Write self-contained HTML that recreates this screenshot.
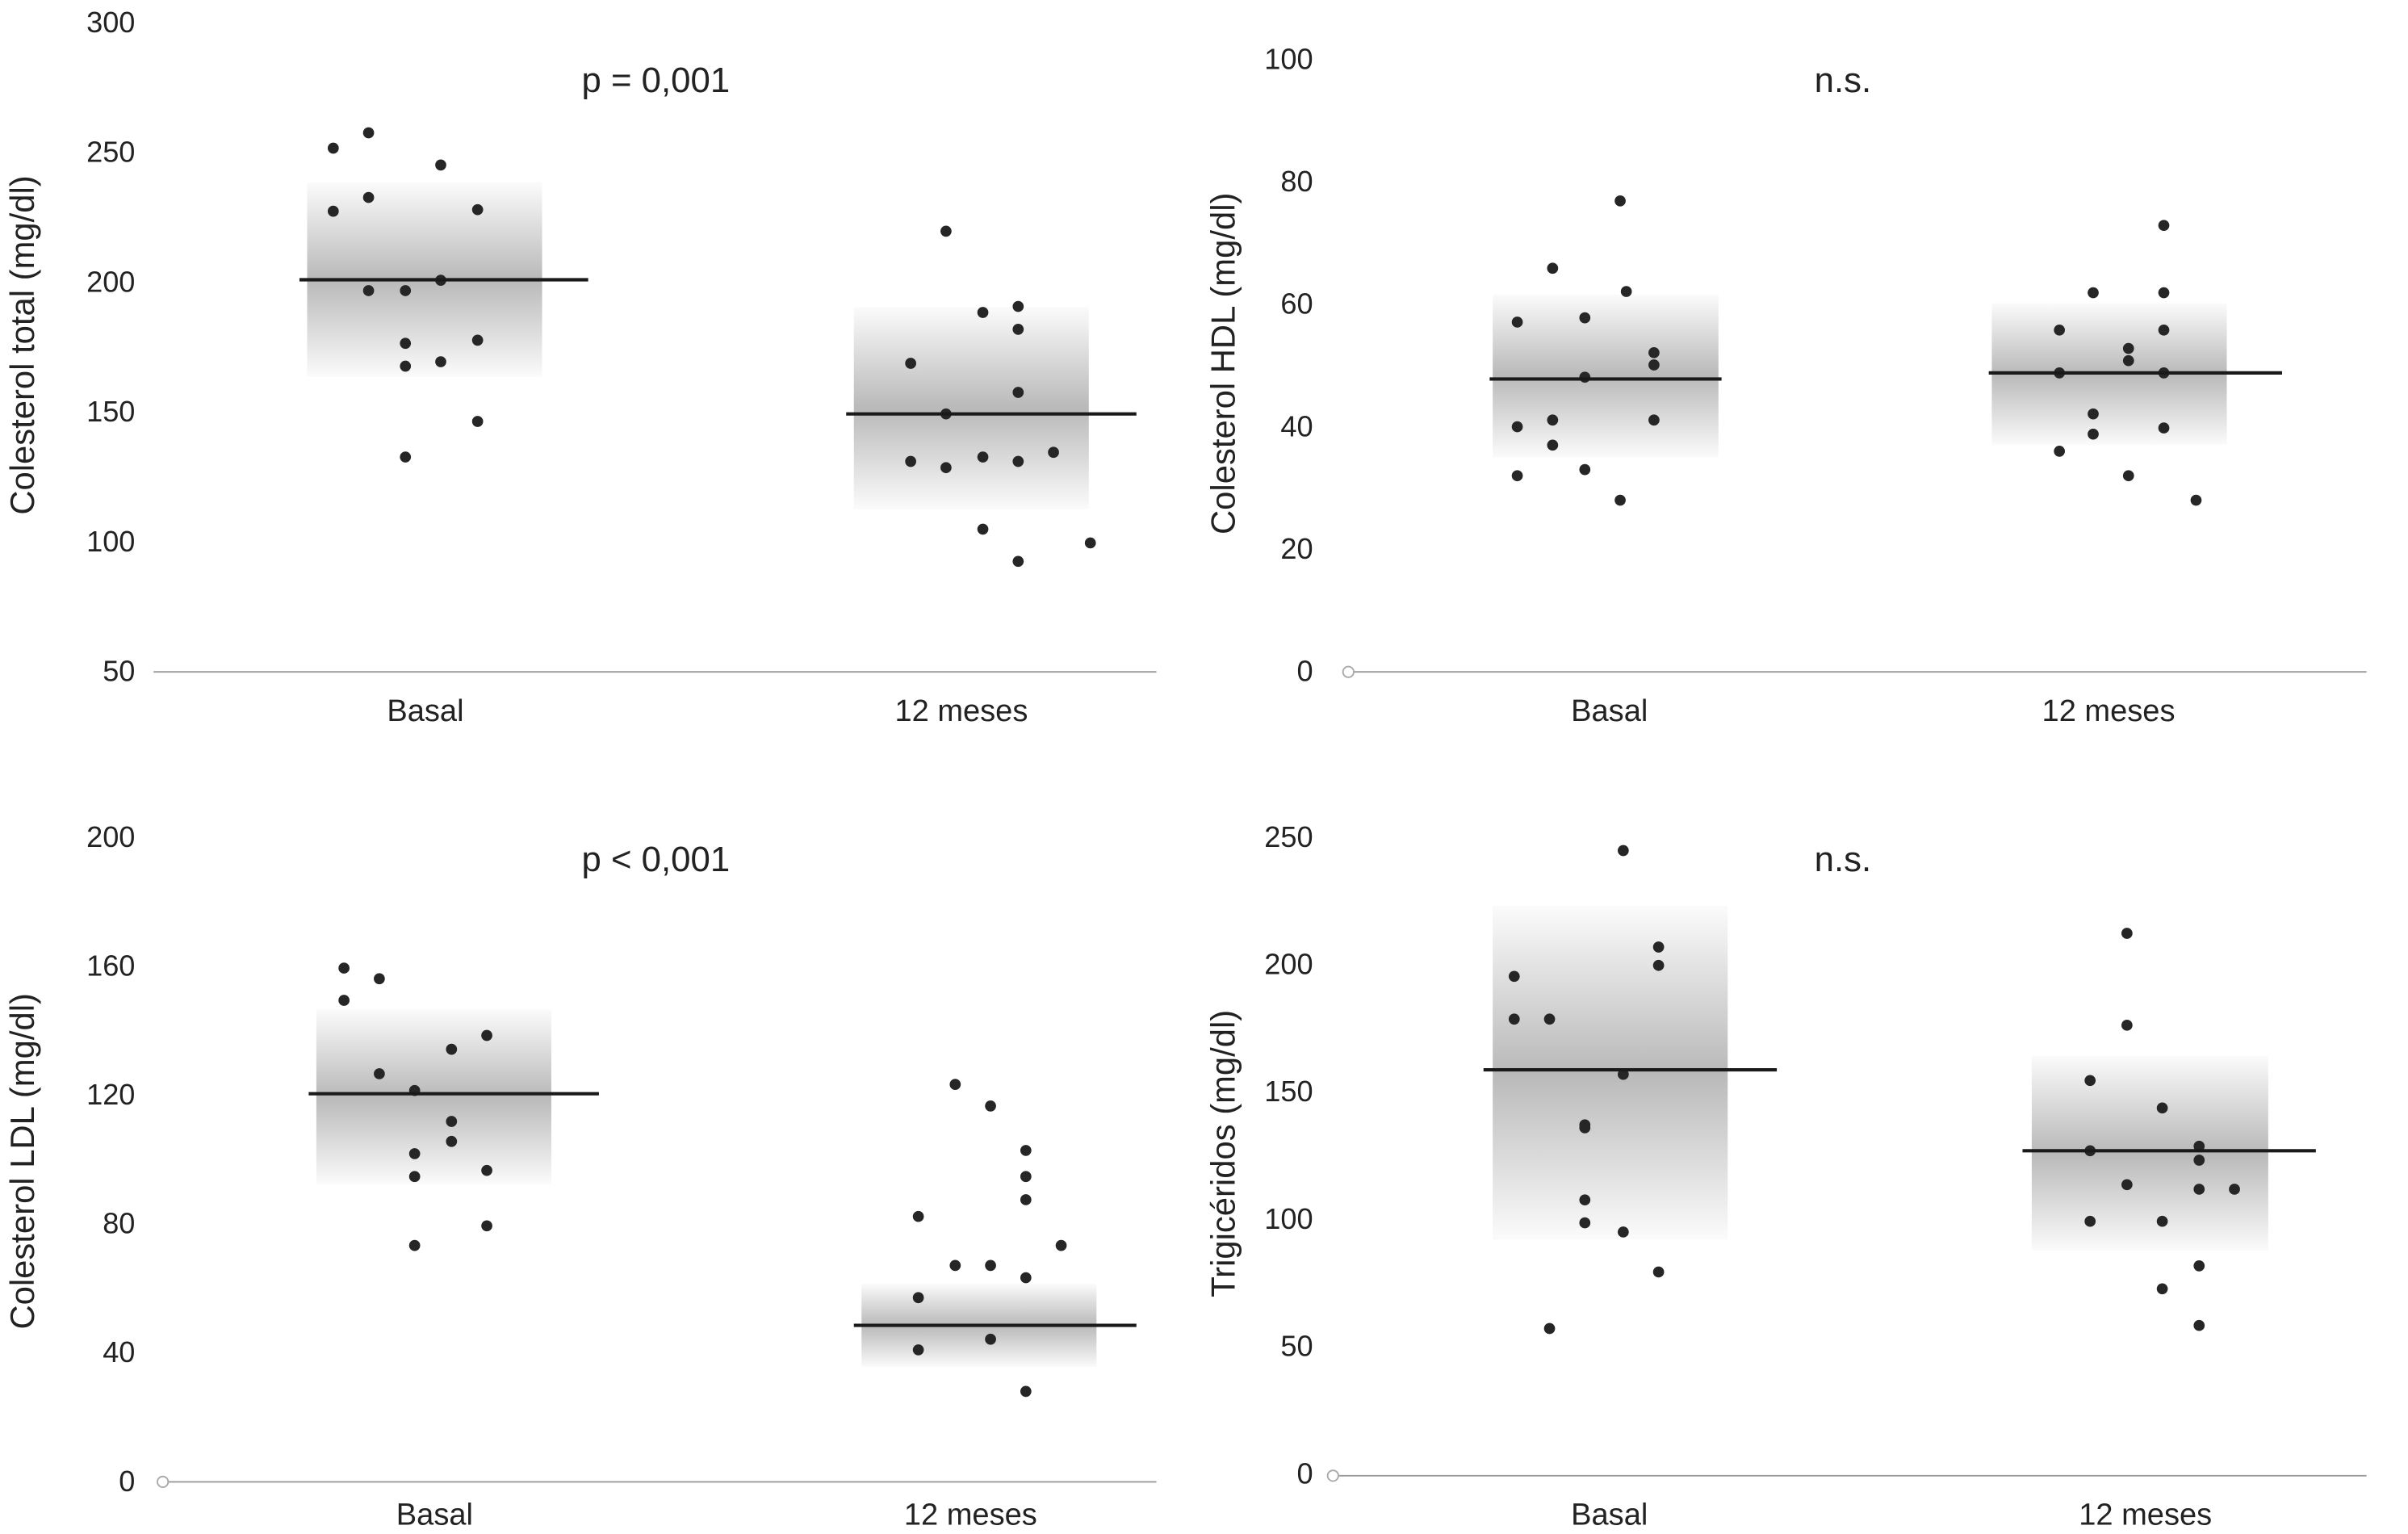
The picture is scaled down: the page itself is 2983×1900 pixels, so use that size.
<!DOCTYPE html>
<html><head><meta charset="utf-8"><style>
html,body{margin:0;padding:0;background:#fff;}
svg{display:block;}
text{font-family:"Liberation Sans",sans-serif;fill:#222;}
</style></head><body>
<svg id="chart" width="2983" height="1900" viewBox="0 0 1568 1000" preserveAspectRatio="none" xmlns="http://www.w3.org/2000/svg">
<defs>
<linearGradient id="bandGrad" x1="0" y1="0" x2="0" y2="1">
<stop offset="0" stop-color="#fbfbfb"/>
<stop offset="0.5" stop-color="#b9b9b9"/>
<stop offset="1" stop-color="#fbfbfb"/>
</linearGradient>
</defs>
</svg>
<script>
// ---- data ----
const categories = ["Basal", "12 meses"];
const titles = ["p = 0,001", "n.s.", "p < 0,001", "n.s."];
const yTitles = ["Colesterol total (mg/dl)", "Colesterol HDL (mg/dl)", "Colesterol LDL (mg/dl)", "Trigicéridos (mg/dl)"];
const ticks1 = [50,100,150,200,250,300];
const ticks2 = [0,20,40,60,80,100];
const ticks3 = [0,40,80,120,160,200];
const ticks4 = [0,50,100,150,200,250];
// means and band (low, high) per category
const means1 = [200.5, 148.8]; const bandLo1 = [163, 112]; const bandHi1 = [238, 190];
const means2 = [47.6, 48.6];   const bandLo2 = [34.8, 36.8]; const bandHi2 = [61.4, 60];
const means3 = [120, 48.1];    const bandLo3 = [91.9, 35.2]; const bandHi3 = [146.2, 61];
const means4 = [158.2, 126.4]; const bandLo4 = [91.5, 87.2]; const bandHi4 = [222.6, 163.7];
// individual values
const p1Basal = [251.2,257.1,244.7,226.9,232.2,227.5,196.3,196.3,200.3,176.0,177.2,167.2,168.9,145.9,132.2];
const p1Basal_j = [-60,-37,10,-60,-37,34,-37,-13,10,-13,34,-13,10,34,-13];
const p1Mes = [219.2,168.3,187.9,190.2,181.4,157.1,148.8,130.5,128.1,132.2,130.5,134.0,104.4,99.1,92.0];
const p1Mes_j = [-10,-33,14,37,37,37,-10,-33,-10,14,37,60,14,84,37];
const p2Basal = [76.7,65.7,61.9,56.9,57.6,51.9,49.9,47.9,39.8,40.9,40.9,36.8,32.8,31.8,27.8];
const p2Basal_j = [7,-37,11,-60,-16,29,29,-16,-60,-37,29,-37,-16,-60,7];
const p2Mes = [72.7,61.7,61.7,55.6,55.6,52.6,50.6,48.6,48.6,41.9,39.6,38.6,35.8,31.8,27.8];
const p2Mes_j = [36,-10,36,-32,36,13,13,-32,36,-10,36,-10,-32,13,57];
const p3Basal = [159,155.7,149,138.1,133.8,126.2,121,111.4,105.2,101.4,96.2,94.3,79,72.9];
const p3Basal_j = [-59,-36,-59,34,11,-36,-13,11,11,-13,34,-13,34,-13];
const p3Mes = [122.9,116.2,102.4,94.3,87.1,81.9,72.9,66.7,66.7,62.9,56.7,43.8,40.5,27.6];
const p3Mes_j = [-10,13,36,36,36,-34,59,-10,13,36,-34,13,-34,36];
const p4Basal = [244.3,206.4,199.2,194.9,178.1,178.1,156.4,136.6,135.4,107.1,98.1,94.5,78.8,56.6];
const p4Basal_j = [9,32,32,-62,-62,-39,9,-16,-16,-16,-16,9,32,-39];
const p4Mes = [211.8,175.7,154,143.2,126.4,128.2,122.7,113.1,111.3,111.3,98.7,98.7,81.2,72.2,57.8];
const p4Mes_j = [-12,-12,-36,11,-36,35,35,-12,35,58,-36,11,35,11,35];

const NS = "http://www.w3.org/2000/svg";
const svg = document.getElementById('chart');
function el(tag, attrs, parent){ const e=document.createElementNS(NS,tag); for(const k in attrs) e.setAttribute(k,attrs[k]); (parent||svg).appendChild(e); return e; }

const panels = [
 {ticks:ticks1, y0:437, y1:14, axisX0:100, circle:false, base:438, labelX:88, yt:[14,225], titleY:52, catX:[277,626], catY:470, band:[[200,353],[556,709]], mline:[[195,383],[551,740]], means:means1, lo:bandLo1, hi:bandHi1, pts:[[p1Basal,p1Basal_j],[p1Mes,p1Mes_j]], titleX:427, xEnd:753},
 {ticks:ticks2, y0:437, y1:38, axisX0:878, circle:true, base:438, labelX:855, yt:[796,237], titleY:52, catX:[1048,1373], catY:470, band:[[972,1119],[1297,1450]], mline:[[970,1121],[1295,1486]], means:means2, lo:bandLo2, hi:bandHi2, pts:[[p2Basal,p2Basal_j],[p2Mes,p2Mes_j]], titleX:1200, xEnd:1541},
 {ticks:ticks3, y0:965, y1:545, axisX0:106, circle:true, base:966, labelX:88, yt:[14,757], titleY:560, catX:[283,632], catY:994, band:[[206,359],[561,714]], mline:[[201,390],[556,740]], means:means3, lo:bandLo3, hi:bandHi3, pts:[[p3Basal,p3Basal_j],[p3Mes,p3Mes_j]], titleX:427, xEnd:753},
 {ticks:ticks4, y0:960, y1:545, axisX0:868, circle:true, base:962, labelX:855, yt:[796,752], titleY:560, catX:[1048,1397], catY:994, band:[[972,1125],[1323,1477]], mline:[[966,1157],[1317,1508]], means:means4, lo:bandLo4, hi:bandHi4, pts:[[p4Basal,p4Basal_j],[p4Mes,p4Mes_j]], titleX:1200, xEnd:1541}
];

panels.forEach((p,pi)=>{
  const tmin=p.ticks[0], tmax=p.ticks[p.ticks.length-1];
  const yScale = v => p.y0 - (v-tmin)/(tmax-tmin)*(p.y0-p.y1);
  const g = el('g',{});
  
  
  [0,1].forEach(c=>{
    const r = el('rect',{x:p.band[c][0], y:yScale(p.hi[c]), width:p.band[c][1]-p.band[c][0], height:yScale(p.lo[c])-yScale(p.hi[c]), fill:'url(#bandGrad)'}, g);
    
    
  });
  const ax = el('line',{x1:p.axisX0, x2:p.xEnd, y1:p.base, y2:p.base, stroke:'#999', 'stroke-width':1}, g);
  
  
  if(p.circle){
    const ci = el('circle',{cx:p.axisX0, cy:p.base, r:3.5, fill:'#fff', stroke:'#aaa', 'stroke-width':1}, g);
    
    
  }
  p.ticks.forEach(t=>{
    const tx = el('text',{x:p.labelX, y:yScale(t)+7, 'text-anchor':'end', 'font-size':19}, g);
    tx.textContent = t;
    
    
  });
  const yt = el('text',{x:0,y:0,'text-anchor':'middle','font-size':22, transform:`translate(${p.yt[0]+8},${p.yt[1]}) rotate(-90)`}, g);
  yt.textContent = yTitles[pi];
  
  
  const tt = el('text',{x:p.titleX, y:p.titleY+8, 'text-anchor':'middle','font-size':23}, g);
  tt.textContent = titles[pi];
  
  
  categories.forEach((c,ci)=>{
    const ct = el('text',{x:p.catX[ci], y:p.catY, 'text-anchor':'middle','font-size':20}, g);
    ct.textContent = c;
    
    
    const [vals,jit] = p.pts[ci];
    vals.forEach((v,i)=>{
      const d = el('circle',{cx:p.catX[ci]+jit[i], cy:yScale(v), r:3.6, fill:'#262626'}, g);
      
      
    });
    const ml = el('line',{x1:p.mline[ci][0], x2:p.mline[ci][1], y1:yScale(p.means[ci]), y2:yScale(p.means[ci]), stroke:'#1a1a1a','stroke-width':2.2}, g);
    
    
  });
});
</script>
</body></html>
